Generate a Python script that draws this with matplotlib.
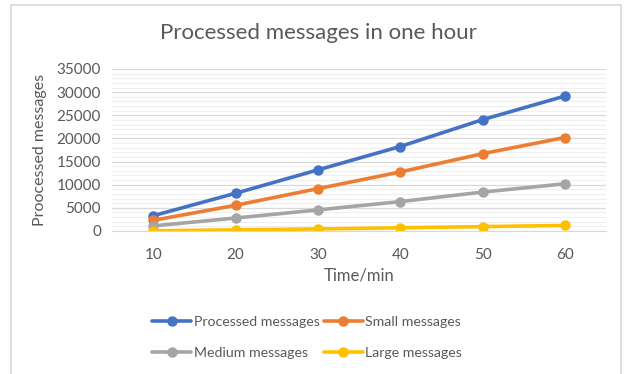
import numpy as np
import matplotlib.pyplot as plt
from matplotlib.patches import Rectangle
from matplotlib.ticker import MultipleLocator

# time in minutes and message counts per series
minutes = [10, 20, 30, 40, 50, 60]
processed = [3300, 8150, 13200, 18250, 24050, 29150]
small = [2300, 5550, 9150, 12750, 16700, 20200]
medium = [1100, 2800, 4550, 6350, 8400, 10200]
large = [50, 250, 450, 700, 950, 1200]

series_names = ["Processed messages", "Small messages", "Medium messages", "Large messages"]
series_colors = ["#4472C4", "#ED7D31", "#A5A5A5", "#FFC000"]

TEXT = "#595959"

def main():
    plt.rcParams['font.family'] = ['Lato', 'DejaVu Sans']
    fig = plt.figure(figsize=(6.24, 3.74), dpi=100)
    ax = fig.add_axes([112 / 624, 1 - 231 / 374, (606 - 112) / 624, (231 - 69) / 374])

    # light frame around the chart area
    fig.patches.append(Rectangle((11 / 624, -0.1), (621 - 11) / 624, 1.1 - 5 / 374,
                                 transform=fig.transFigure, fill=False,
                                 edgecolor="#D9D9D9", linewidth=1.2))

    pos = np.arange(len(minutes))
    lines = []
    for vals, name, col in zip([processed, small, medium, large], series_names, series_colors):
        ln, = ax.plot(pos, vals, color=col, linewidth=2.6, marker="o", markersize=6.5,
                      label=name, solid_capstyle="round")
        lines.append(ln)

    ax.set_xlim(-0.5, len(minutes) - 0.5)
    ax.set_ylim(0, 35000)
    ax.set_xticks(pos)
    ax.set_xticklabels([str(m) for m in minutes])
    ax.yaxis.set_major_locator(MultipleLocator(5000))
    ax.yaxis.set_minor_locator(MultipleLocator(1000))
    ax.grid(axis="y", which="major", color="#D9D9D9", linewidth=0.9)
    ax.grid(axis="y", which="minor", color="#F0F0F0", linewidth=0.9)
    ax.set_axisbelow(True)
    for s in ["top", "right", "left"]:
        ax.spines[s].set_visible(False)
    ax.spines["bottom"].set_color("#D9D9D9")
    ax.tick_params(axis="both", which="both", length=0, colors=TEXT, labelsize=11)
    ax.tick_params(axis="x", pad=12)
    ax.tick_params(axis="y", pad=8)

    ax.set_xlabel("Time/min", color=TEXT, fontsize=12, labelpad=4)
    ax.set_ylabel("Proocessed messages", color=TEXT, fontsize=11.5, labelpad=7)
    fig.text(318 / 624, 1 - 33 / 374, "Processed messages in one hour", color=TEXT,
             fontsize=16, ha="center", va="center")

    # legend filled row by row: column-major order for ncol=2
    order = [0, 2, 1, 3]
    fig.legend([lines[i] for i in order], [series_names[i] for i in order],
               loc="center", bbox_to_anchor=(307 / 624, 1 - 337.5 / 374), ncol=2,
               frameon=False, fontsize=10.2, labelcolor=TEXT, handlelength=2.8,
               handletextpad=0.15, columnspacing=0.3, labelspacing=1.3)

    fig.savefig("out.png", dpi=100)

if __name__ == "__main__":
    main()
